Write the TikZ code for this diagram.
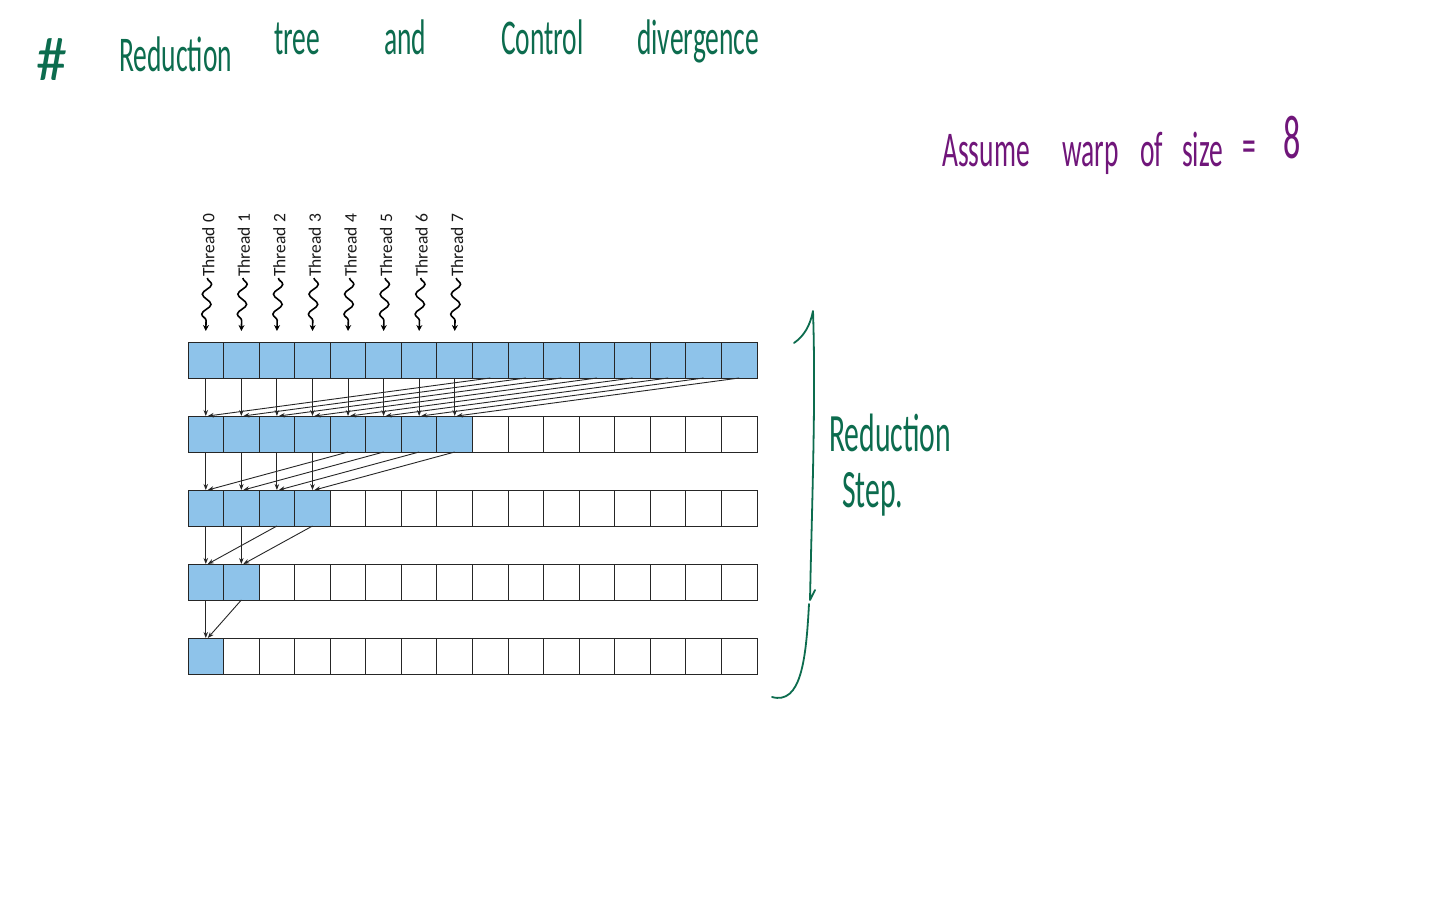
\documentclass[tikz,border=0pt]{standalone}
\usepackage{fontspec}
\setmainfont{Carlito}
\newfontfamily\handfont{Carlito}[FakeStretch=0.55]
\usetikzlibrary{arrows.meta,decorations.pathmorphing}
\definecolor{cellblue}{RGB}{142,195,234}
\definecolor{hgreen}{RGB}{12,108,78}
\definecolor{hpurple}{RGB}{112,22,122}
\begin{document}
\begin{tikzpicture}[x=1pt,y=-1pt,
  cell/.style={draw=black!85, line width=1pt, minimum width=35.5625pt, minimum height=36pt, inner sep=0pt, outer sep=0pt, anchor=north west},
  arr/.style={-{Stealth[length=6pt,width=4.5pt]}, line width=0.9pt, black!85},
  tlabel/.style={rotate=90, anchor=west, inner sep=1pt, font=\fontsize{17.5}{20}\selectfont, text=black!90},
  squig/.style={decorate, decoration={snake, amplitude=4.5pt, segment length=20pt, post length=6pt}, line width=1.6pt, -{Stealth[length=6pt,width=6pt]}},
  gword/.style={anchor=base west, inner sep=0pt, text=hgreen, font=\handfont\fontsize{50}{54}\selectfont},
  pword/.style={anchor=base west, inner sep=0pt, text=hpurple, font=\handfont\fontsize{50}{54}\selectfont},
  brace/.style={draw=hgreen, line width=1.8pt, line cap=round, line join=round}]
\useasboundingbox (0,0) rectangle (1456,910);
\fill[white] (0,0) rectangle (1456,910);

% title
\node[anchor=base west, inner sep=0pt, text=hgreen, font=\fontsize{62}{66}\selectfont] (hash) at (36,80) {\#};
\node[gword] (w1) at (119,71) {Reduction};
\node[gword] (w2) at (274,54) {tree};
\node[gword] (w3) at (384,54) {and};
\node[gword] (w4) at (501,54) {Control};
\node[gword] (w5) at (637,54) {divergence};

% warp note
\node[pword] (p1) at (942,166) {Assume};
\node[pword] (p2) at (1062,166) {warp};
\node[pword] (p3) at (1140,166) {of};
\node[pword] (p4) at (1182,166) {size};
\node[pword] (p5) at (1242,162) {=};
\node[pword, font=\handfont\fontsize{62}{66}\selectfont] (p6) at (1283,158) {8};

% cells
\foreach \r/\n in {0/16,1/8,2/4,3/2,4/1}{
  \foreach \i in {0,...,15}{
    \ifnum\i<\n \def\cf{cellblue}\else\def\cf{white}\fi
    \node[cell, fill=\cf] (c-\r-\i) at ({188+\i*35.5625},{342+\r*74}) {};
  }
}

% reduction arrows
\foreach \r/\h in {0/8,1/4,2/2,3/1}{
  \pgfmathtruncatemacro\rn{\r+1}
  \pgfmathtruncatemacro\hm{\h-1}
  \foreach \i in {0,...,\hm}{
    \pgfmathtruncatemacro\j{\i+\h}
    \draw[arr] (c-\r-\i.south) -- (c-\rn-\i.north);
    \draw[arr] (c-\r-\j.south) -- ([xshift=2pt]c-\rn-\i.north);
  }
}

% threads
\foreach \i in {0,...,7}{
  \node[tlabel] (t\i) at ([xshift=2.5pt,yshift=64pt]c-0-\i.north) {Thread \i};
  \draw[squig] ([xshift=-1pt]t\i.west) -- ([yshift=11pt]c-0-\i.north);
}

% brace
\coordinate (bt) at (813,311);
\coordinate (bh) at (794,343);
\coordinate (bk) at (809,604);
\coordinate (bb) at (772,697);
\draw[brace] (bh) .. controls (804,336) and (810,326) .. (bt)
  .. controls (816,400) and (812,500) .. (810,600) -- (815,590);
\draw[brace] (bk) .. controls (806,660) and (801,705) .. (bb);

\node[gword, font=\handfont\fontsize{54}{58}\selectfont] (r1) at (829,451) {Reduction};
\node[gword, font=\handfont\fontsize{54}{58}\selectfont] (r2) at (842,507) {Step.};
\end{tikzpicture}
\end{document}
